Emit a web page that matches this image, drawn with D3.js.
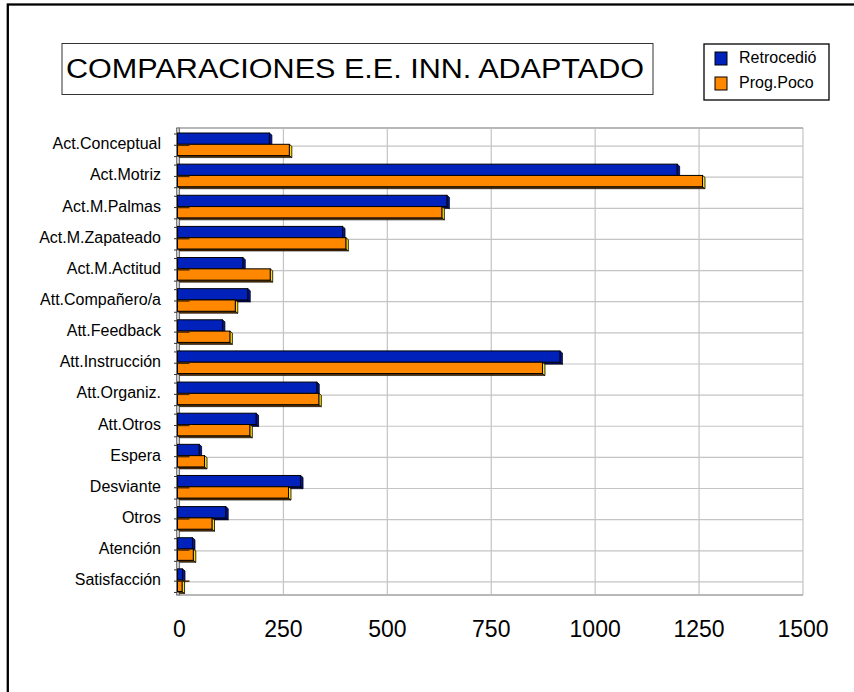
<!DOCTYPE html>
<html>
<head>
<meta charset="utf-8">
<script src="https://cdn.jsdelivr.net/npm/d3@7"></script>
<style>
    body { margin: 0; background: #fff; }
    text { font-family: Arial, "Liberation Sans", sans-serif; fill: #000; }
</style>
</head>
<body>
<div id="chart"></div>
<script>
const categories = [
    "Act.Conceptual", "Act.Motriz", "Act.M.Palmas", "Act.M.Zapateado",
    "Act.M.Actitud", "Att.Compañero/a", "Att.Feedback", "Att.Instrucción",
    "Att.Organiz.", "Att.Otros", "Espera", "Desviante", "Otros",
    "Atención", "Satisfacción"
];
const seriesNames = ["Retrocedió", "Prog.Poco"];
const retrocedio = [221, 1202, 648, 397, 157, 169, 108, 920, 335, 189, 52, 296, 116, 36, 12];
const progPoco = [269, 1263, 636, 405, 223, 139, 126, 878, 340, 174, 65, 267, 83, 38, 11];
const xTicks = [0, 250, 500, 750, 1000, 1250, 1500];

const colors = { "Retrocedió": "#0022bb", "Prog.Poco": "#ff8800" };
const sideColors = { "Retrocedió": "#0016a0", "Prog.Poco": "#ffe000" };
const bottomColors = { "Retrocedió": "#000a60", "Prog.Poco": "#5a3000" };

const width = 854;
const height = 692;
const depth = { dx: 2.5, dy: 2 };

const svg = d3
    .select("#chart")
    .append("svg")
    .attr("width", width)
    .attr("height", height);

// outer frame
svg.append("rect")
    .attr("x", 7.8)
    .attr("y", 4.5)
    .attr("width", 900)
    .attr("height", 800)
    .attr("fill", "none")
    .attr("stroke", "#000")
    .attr("stroke-width", 2.3);

const xScale = d3.scaleLinear().domain([0, 1500]).range([179.5, 803]);
const yScale = d3.scaleBand().domain(categories).range([128, 595]);
const ySub = d3.scaleBand().domain(seriesNames).range([5, 27.6]);

const plotTop = yScale.range()[0];
const plotBottom = yScale.range()[1];

// gridlines
const grid = svg.append("g").attr("stroke", "#c4c4c4").attr("stroke-width", 1.2);
grid.selectAll(".vgrid")
    .data(xTicks)
    .enter()
    .append("line")
    .attr("x1", d => xScale(d))
    .attr("x2", d => xScale(d))
    .attr("y1", plotTop)
    .attr("y2", plotBottom);
grid.selectAll(".hgrid")
    .data(categories)
    .enter()
    .append("line")
    .attr("x1", xScale(0))
    .attr("x2", xScale(1500))
    .attr("y1", d => yScale(d) + yScale.bandwidth() * 0.58)
    .attr("y2", d => yScale(d) + yScale.bandwidth() * 0.58);
[plotTop, plotBottom].forEach(y => {
    grid.append("line")
        .attr("x1", xScale(0) - 2)
        .attr("x2", xScale(1500))
        .attr("y1", y)
        .attr("y2", y)
        .attr("stroke", "#b8b8b8")
        .attr("stroke-width", 2);
});

// left wall
svg.append("rect")
    .attr("x", xScale(0) - 3)
    .attr("y", plotTop)
    .attr("width", 3)
    .attr("height", plotBottom - plotTop)
    .attr("fill", "#c8c8c8")
    .attr("stroke", "#555")
    .attr("stroke-width", 0.7);

// bars
const rows = categories.map((c, i) => ({
    category: c,
    values: [
        { series: "Retrocedió", value: retrocedio[i] },
        { series: "Prog.Poco", value: progPoco[i] }
    ]
}));

const barGroups = svg.selectAll(".row")
    .data(rows)
    .enter()
    .append("g")
    .attr("class", "row")
    .attr("transform", d => `translate(0, ${yScale(d.category)})`);

barGroups.each(function (row) {
    const g = d3.select(this);
    row.values.forEach(d => {
        const x0 = xScale(0) - 2;
        const x1 = xScale(d.value) - 2;
        const y0 = ySub(d.series);
        const y1 = y0 + ySub.bandwidth();

        // bottom face
        g.append("polygon")
            .attr("points", [[x0, y1], [x1, y1], [x1 + depth.dx, y1 + depth.dy], [x0 + depth.dx, y1 + depth.dy]].join(" "))
            .attr("fill", bottomColors[d.series])
            .attr("stroke", "#000")
            .attr("stroke-width", 0.6);
        // side face
        g.append("polygon")
            .attr("points", [[x1, y0], [x1 + depth.dx, y0 + depth.dy], [x1 + depth.dx, y1 + depth.dy], [x1, y1]].join(" "))
            .attr("fill", sideColors[d.series])
            .attr("stroke", "#000")
            .attr("stroke-width", 0.8);
        // front face
        g.append("rect")
            .attr("x", x0)
            .attr("y", y0)
            .attr("width", x1 - x0)
            .attr("height", y1 - y0)
            .attr("fill", colors[d.series])
            .attr("stroke", "#000")
            .attr("stroke-width", 1);
        // tick stubs at the wall
        g.append("line")
            .attr("x1", x0 - 3.5)
            .attr("x2", x0)
            .attr("y1", y0 + 1)
            .attr("y2", y0 + 1)
            .attr("stroke", "#333")
            .attr("stroke-width", 1);
        if (d.series === "Prog.Poco") {
            g.append("line")
                .attr("x1", x0)
                .attr("x2", x0 + 12)
                .attr("y1", y0 + 1)
                .attr("y2", y0 + 1)
                .attr("stroke", "#4a2800")
                .attr("stroke-width", 1.5);
            g.append("line")
                .attr("x1", x0 - 3.5)
                .attr("x2", x0)
                .attr("y1", y1 + 1)
                .attr("y2", y1 + 1)
                .attr("stroke", "#333")
                .attr("stroke-width", 1);
        }
    });
});

// category labels
svg.append("g")
    .selectAll("text")
    .data(categories)
    .enter()
    .append("text")
    .attr("x", 161)
    .attr("y", d => yScale(d) + yScale.bandwidth() * 0.55)
    .attr("text-anchor", "end")
    .attr("dominant-baseline", "middle")
    .style("font-size", "16px")
    .text(d => d);

// value tick labels
svg.append("g")
    .selectAll("text")
    .data(xTicks)
    .enter()
    .append("text")
    .attr("x", d => xScale(d))
    .attr("y", 637)
    .attr("text-anchor", "middle")
    .style("font-size", "23px")
    .text(d => d);

// title box
svg.append("rect")
    .attr("x", 62)
    .attr("y", 43.5)
    .attr("width", 591)
    .attr("height", 51)
    .attr("fill", "#fff")
    .attr("stroke", "#333")
    .attr("stroke-width", 1);
svg.append("text")
    .attr("x", 66)
    .attr("y", 77.5)
    .attr("textLength", 578)
    .attr("lengthAdjust", "spacingAndGlyphs")
    .style("font-size", "27px")
    .text("COMPARACIONES E.E. INN. ADAPTADO");

// legend
const legend = svg.append("g").attr("transform", "translate(704, 44)");
legend.append("rect")
    .attr("width", 125)
    .attr("height", 56)
    .attr("fill", "#fff")
    .attr("stroke", "#000")
    .attr("stroke-width", 1.3);
const items = legend.selectAll(".item")
    .data(seriesNames)
    .enter()
    .append("g")
    .attr("transform", (d, i) => `translate(11, ${8 + i * 25})`);
items.append("rect")
    .attr("width", 12)
    .attr("height", 13)
    .attr("fill", d => colors[d])
    .attr("stroke", "#000")
    .attr("stroke-width", 1);
items.append("text")
    .attr("x", 24)
    .attr("y", 7)
    .attr("dominant-baseline", "middle")
    .style("font-size", "16px")
    .text(d => d);
</script>
</body>
</html>
